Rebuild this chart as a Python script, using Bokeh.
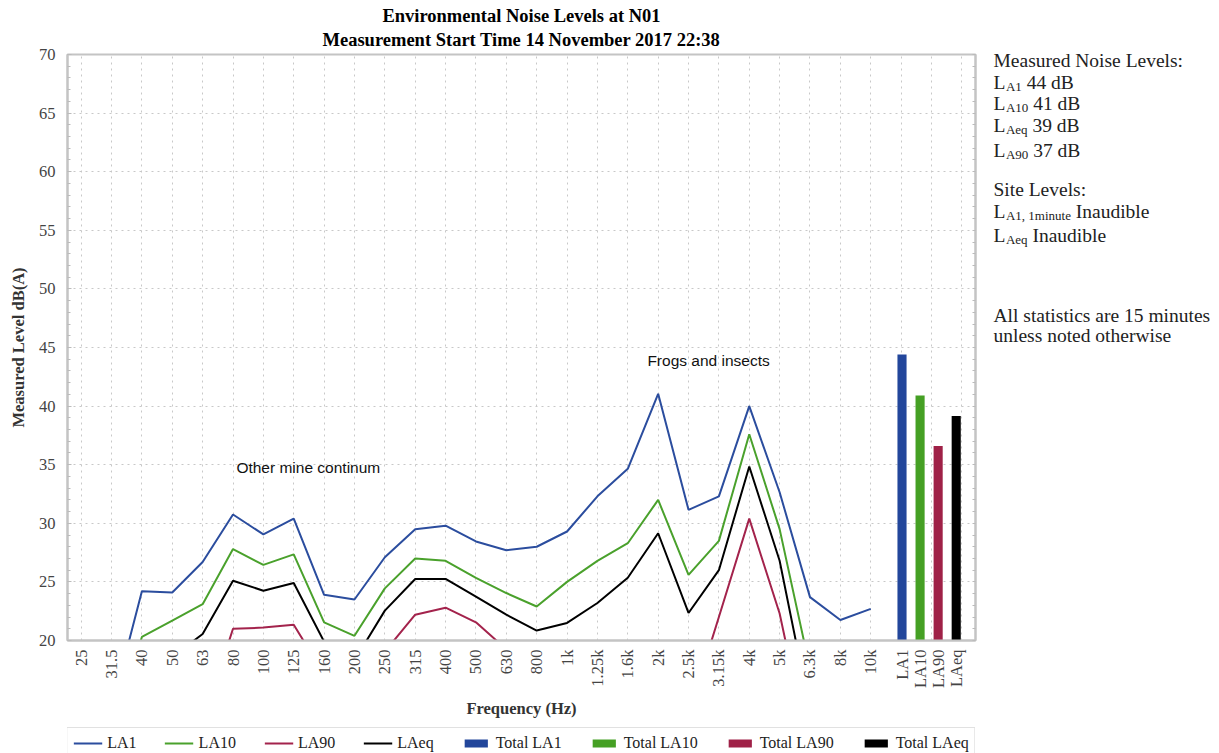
import math
from bokeh.plotting import figure
from bokeh.layouts import row, column
from bokeh.models import FixedTicker, LinearAxis, Range1d, Label, Legend, LegendItem, Title
from bokeh.embed import file_html
from bokeh.resources import INLINE

# ---------------- data ----------------
freq_labels = ["25", "31.5", "40", "50", "63", "80", "100", "125", "160", "200",
               "250", "315", "400", "500", "630", "800", "1k", "1.25k", "1.6k",
               "2k", "2.5k", "3.15k", "4k", "5k", "6.3k", "8k", "10k"]
la1 = [12.0, 14.2, 24.2, 24.1, 26.7, 30.75, 29.05, 30.4, 23.9, 23.5,
       27.1, 29.5, 29.8, 28.45, 27.7, 28.0, 29.3, 32.3, 34.65,
       41.05, 31.15, 32.3, 40.0, 32.65, 23.7, 21.75, 22.7]
la10 = [10.0, 12.0, 20.3, 21.7, 23.1, 27.8, 26.45, 27.35, 21.55, 20.4,
        24.45, 27.0, 26.8, 25.35, 24.05, 22.9, 25.0, 26.8, 28.3,
        32.0, 25.6, 28.5, 37.6, 29.5, 17.6, 15.5, 16.0]
la90 = [6.0, 7.0, 8.0, 10.0, 13.0, 21.0, 21.1, 21.35, 17.1, 16.0,
        19.06, 22.2, 22.8, 21.55, 19.25, 17.0, 17.5, 17.8, 18.0,
        18.0, 13.7, 22.0, 30.4, 22.3, 10.2, 9.0, 9.5]
laeq = [9.0, 11.0, 15.5, 18.6, 20.55, 25.1, 24.25, 24.9, 19.9, 18.3,
        22.55, 25.25, 25.25, 23.75, 22.2, 20.85, 21.5, 23.2, 25.35,
        29.15, 22.35, 26.0, 34.85, 26.8, 14.0, 12.5, 13.0]
total_labels = ["LA1", "LA10", "LA90", "LAeq"]
total_values = [44.4, 40.9, 36.6, 39.15]

series_names = ["LA1", "LA10", "LA90", "LAeq"]
line_colors = ["#2b4d9e", "#4aa12c", "#a3234c", "#000000"]
bar_colors = ["#22469b", "#45a024", "#9f2147", "#000000"]

title_lines = ["Environmental Noise Levels at N01",
               "Measurement Start Time 14 November 2017 22:38"]

# ---------------- layout constants ----------------
SERIF = "Liberation Serif"
SANS = "Liberation Sans"
FRAME_L, FRAME_T, FRAME_W, FRAME_H = 67, 54, 908, 586
RIGHT_B = 10
BOTTOM_B = 80
MAIN_W = FRAME_L + FRAME_W + RIGHT_B
MAIN_H = FRAME_T + FRAME_H + BOTTOM_B
PAGE_W, PAGE_H = 1219, 753

n = len(freq_labels)
x_idx = list(range(n))
bar_x = [round(n + 0.03 + 0.595 * k, 3) for k in range(len(total_values))]

p = figure(frame_width=FRAME_W, frame_height=FRAME_H, output_backend="svg",
           toolbar_location=None,
           x_range=Range1d(-0.45, 29.45), y_range=Range1d(20, 70),
           min_border_left=FRAME_L, min_border_right=RIGHT_B, min_border_top=FRAME_T,
           min_border_bottom=BOTTOM_B, title=None)
p.background_fill_color = "white"
p.border_fill_color = "white"
p.outline_line_color = "#c4c4c4"
p.outline_line_width = 2

# titles (second line first: later ones stack further from the frame)
p.add_layout(Title(text=title_lines[1], align="center", standoff=10,
                   text_font=SERIF, text_font_style="bold", text_font_size="18.5px",
                   text_color="#000000"), "above")
p.add_layout(Title(text=title_lines[0], align="center", standoff=-6,
                   text_font=SERIF, text_font_style="bold", text_font_size="18.5px",
                   text_color="#000000"), "above")

# grids
p.xgrid[0].ticker = FixedTicker(ticks=list(range(30)))
p.ygrid[0].ticker = FixedTicker(ticks=list(range(25, 70, 5)))
for g in (p.xgrid[0], p.ygrid[0]):
    g.grid_line_color = "#c8c8c8"
    g.grid_line_dash = "2 4"
    g.grid_line_width = 1

# y axis
ya = p.yaxis[0]
ya.ticker = FixedTicker(ticks=list(range(20, 71, 5)), minor_ticks=list(range(20, 71)))
ya.axis_label = "Measured Level dB(A)"
ya.axis_label_text_font = SERIF
ya.axis_label_text_font_style = "bold"
ya.axis_label_text_font_size = "16.5px"
ya.axis_label_text_color = "#333333"
ya.axis_label_standoff = 8
ya.major_label_text_font = SERIF
ya.major_label_text_font_size = "16.5px"
ya.major_label_text_color = "#444444"
ya.major_label_standoff = 12
ya.axis_line_color = "#c4c4c4"
ya.axis_line_width = 2
ya.major_tick_in = 4
ya.major_tick_out = 0
ya.minor_tick_in = 3
ya.minor_tick_out = 0
ya.major_tick_line_color = "#bbbbbb"
ya.minor_tick_line_color = "#bbbbbb"

# mirrored right axis (ticks only)
ra = LinearAxis(ticker=FixedTicker(ticks=[], minor_ticks=list(range(20, 71))))
ra.axis_line_color = "#c4c4c4"
ra.axis_line_width = 2
ra.minor_tick_in = 3
ra.minor_tick_out = 0
ra.major_tick_in = 0
ra.major_tick_out = 0
ra.minor_tick_line_color = "#bbbbbb"
p.add_layout(ra, "right")

# x axis
xa = p.xaxis[0]
xa.ticker = FixedTicker(ticks=x_idx + bar_x)
overrides = {i: lab for i, lab in enumerate(freq_labels)}
overrides.update({bx: lab for bx, lab in zip(bar_x, total_labels)})
xa.major_label_overrides = overrides
xa.major_label_orientation = math.pi / 2
xa.major_label_text_font = SERIF
xa.major_label_text_font_size = "16.5px"
xa.major_label_text_color = "#444444"
xa.major_label_standoff = 9
xa.major_tick_in = 0
xa.major_tick_out = 0
xa.minor_tick_in = 0
xa.minor_tick_out = 0
xa.axis_line_color = "#c4c4c4"
xa.axis_line_width = 2
xa.axis_label = "Frequency (Hz)"
xa.axis_label_text_font = SERIF
xa.axis_label_text_font_style = "bold"
xa.axis_label_text_font_size = "16.5px"
xa.axis_label_text_color = "#333333"
xa.axis_label_standoff = 8

# lines
for vals, col in zip([la1, la10, la90, laeq], line_colors):
    p.line(x_idx, vals, line_color=col, line_width=2)

# total bars
for bx, v, col in zip(bar_x, total_values, bar_colors):
    p.vbar(x=[bx], top=[v], bottom=20, width=0.3, fill_color=col, line_color=None)

# annotations in plot
p.add_layout(Label(x=7.48, y=34.76, text="Other mine continum", text_align="center",
                   text_baseline="middle", text_font=SANS, text_font_size="15.5px",
                   text_color="#111111"))
p.add_layout(Label(x=20.66, y=43.9, text="Frogs and insects", text_align="center",
                   text_baseline="middle", text_font=SANS, text_font_size="15.5px",
                   text_color="#111111"))

# ---------------- legend strip ----------------
LEG_H = PAGE_H - MAIN_H
lf = figure(frame_width=FRAME_W, frame_height=LEG_H, output_backend="svg",
            toolbar_location=None, x_range=Range1d(0, 1), y_range=Range1d(0, 1),
            min_border_left=FRAME_L, min_border_right=RIGHT_B, min_border_top=0,
            min_border_bottom=0, x_axis_location=None, y_axis_location=None, title=None)
lf.xgrid.visible = False
lf.ygrid.visible = False
lf.outline_line_color = None
lf.background_fill_color = "white"
lf.border_fill_color = "white"

# legend proxies: one point each, outside the strip's visible range
proxy_x = [-5.0]
proxy_y = [-5.0]
items = []
for nm, col in zip(series_names, line_colors):
    r = lf.line(x=proxy_x, y=proxy_y, line_color=col, line_width=2)
    items.append(LegendItem(label=nm, renderers=[r]))
for nm, col in zip(total_labels, bar_colors):
    r = lf.vbar(x=proxy_x, top=proxy_y, bottom=-6.0, width=0.1, fill_color=col, line_color=None)
    items.append(LegendItem(label="Total " + nm, renderers=[r]))
legend = Legend(items=items, orientation="horizontal", location="top_center",
                glyph_width=29, glyph_height=10, label_standoff=5, spacing=28,
                padding=6, margin=7, label_height=16,
                label_text_font=SERIF, label_text_font_size="16px",
                label_text_color="#222222",
                border_line_color="#c4c4c4", border_line_width=1,
                background_fill_color="white", background_fill_alpha=1.0)
lf.add_layout(legend, "center")

# ---------------- right-side notes ----------------
NOTES_W = PAGE_W - MAIN_W
nf = figure(frame_width=NOTES_W, frame_height=PAGE_H, output_backend="svg",
            toolbar_location=None, x_range=Range1d(0, 1), y_range=Range1d(0, 1),
            min_border=0, x_axis_location=None, y_axis_location=None, title=None)
nf.xgrid.visible = False
nf.ygrid.visible = False
nf.outline_line_color = None
nf.background_fill_color = "white"
nf.border_fill_color = "white"

TIMES_W = {"L": 0.611, "A": 0.722, "0": 0.5, "1": 0.5, "9": 0.5, "e": 0.444,
           "q": 0.5, ",": 0.25, " ": 0.25, "m": 0.778, "i": 0.278, "n": 0.5,
           "u": 0.5, "t": 0.278}


def tw(s, size):
    return sum(TIMES_W.get(c, 0.5) for c in s) * size


MAIN_FS = 19.5
SUB_FS = 13
NOTE_X = 993
TXT_COL = "#222222"


def nx(page_x):
    return page_x - MAIN_W


def ny(page_y):
    return PAGE_H - page_y


def note(text, page_x, baseline_page_y, size):
    nf.add_layout(Label(x=nx(page_x), y=ny(baseline_page_y), x_units="screen", y_units="screen",
                        text=text, text_align="left", text_baseline="alphabetic",
                        text_font=SERIF, text_font_size=f"{size}px", text_color=TXT_COL))


def plain(text, baseline_page_y):
    note(text, NOTE_X, baseline_page_y, MAIN_FS)


def subbed(sub, rest, baseline_page_y):
    x0 = NOTE_X
    note("L", x0, baseline_page_y, MAIN_FS)
    x1 = x0 + tw("L", MAIN_FS) + 0.5
    note(sub, x1, baseline_page_y + 4, SUB_FS)
    x2 = x1 + tw(sub, SUB_FS) + tw(" ", MAIN_FS)
    note(rest, x2, baseline_page_y, MAIN_FS)


plain("Measured Noise Levels:", 60)
subbed("A1", "44 dB", 82)
subbed("A10", "41 dB", 103)
subbed("Aeq", "39 dB", 125)
subbed("A90", "37 dB", 150)
plain("Site Levels:", 189)
subbed("A1, 1minute", "Inaudible", 211)
subbed("Aeq", "Inaudible", 235)
plain("All statistics are 15 minutes", 315)
plain("unless noted otherwise", 335)

layout = row(column(p, lf), nf)
open("out.html", "w").write(file_html(layout, INLINE))
